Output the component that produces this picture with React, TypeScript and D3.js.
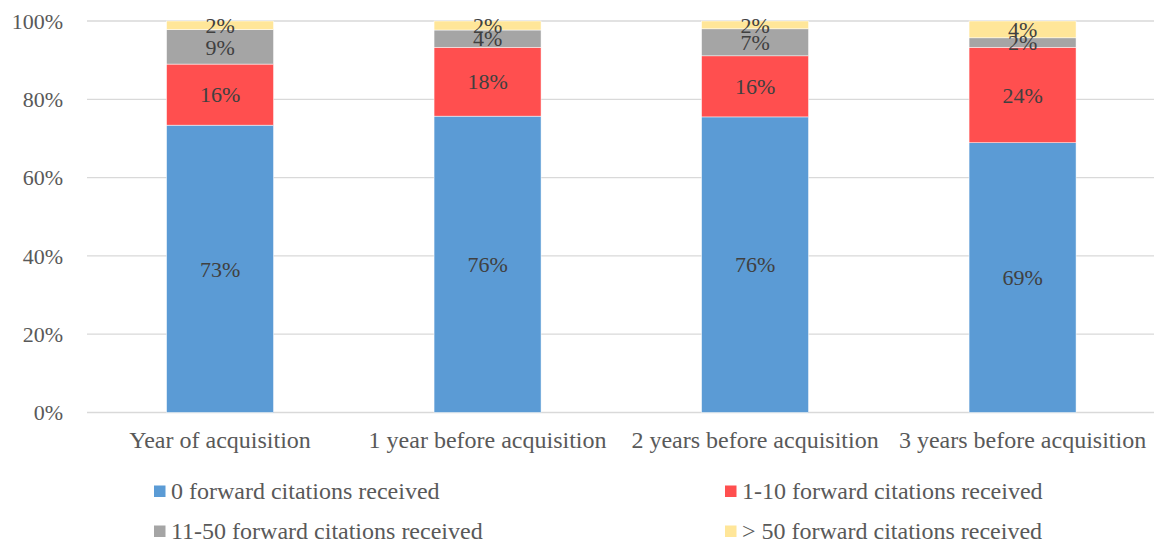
import React from "react";
import * as d3 from "d3";

const categories = [
  "Year of acquisition",
  "1 year before acquisition",
  "2 years before acquisition",
  "3 years before acquisition",
];
const seriesNames = [
  "0 forward citations received",
  "1-10 forward citations received",
  "11-50 forward citations received",
  "> 50 forward citations received",
];
const zeroCit = [73.4, 75.7, 75.5, 68.9];
const oneToTen = [15.6, 17.6, 15.6, 24.4];
const elevenToFifty = [8.8, 4.4, 6.9, 2.4];
const overFifty = [2.2, 2.3, 2.0, 4.3];
const yTicks = [0, 20, 40, 60, 80, 100];
const colors = ["#5B9BD5", "#FF4F4F", "#A5A5A5", "#FFE699"];

const W = 1154;
const H = 542;

export default function App() {
  const series = [zeroCit, oneToTen, elevenToFifty, overFifty];
  const rows = categories.map((c, i) => {
    const r: any = { cat: c };
    seriesNames.forEach((s, j) => (r[s] = series[j][i]));
    return r;
  });
  const stacked = d3.stack<any>().keys(seriesNames)(rows);

  const x = d3
    .scaleBand()
    .domain(categories)
    .range([86.3, 1156.3])
    .paddingInner(0.6)
    .paddingOuter(0.3);
  const y = d3.scaleLinear().domain([0, 100]).range([412.5, 21]);

  const font = "'Liberation Serif', 'Times New Roman', serif";

  return (
    <svg
      width={W}
      height={H}
      style={{ position: "absolute", left: 0, top: 0, background: "#fff" }}
      fontFamily={font}
    >
      {yTicks.map((t) => (
        <g key={t}>
          <line
            x1={87}
            x2={W}
            y1={y(t)}
            y2={y(t)}
            stroke="#d9d9d9"
            strokeWidth={1.3}
          />
          <text
            x={63}
            y={y(t)}
            dy="0.35em"
            textAnchor="end"
            fontSize={22}
            fill="#595959"
          >
            {t}%
          </text>
        </g>
      ))}
      {stacked.map((layer, j) => (
        <g key={layer.key}>
          {layer.map((d, i) => (
            <rect
              key={i}
              x={x(categories[i])}
              width={x.bandwidth()}
              y={y(d[1])}
              height={y(d[0]) - y(d[1])}
              fill={colors[j]}
              stroke="#ffffff"
              strokeWidth={0.5}
            />
          ))}
        </g>
      ))}
      {stacked.map((layer, j) => (
        <g key={"l" + layer.key}>
          {layer.map((d, i) => (
            <text
              key={i}
              x={(x(categories[i]) as number) + x.bandwidth() / 2}
              y={(y(d[0]) + y(d[1])) / 2}
              dy="0.35em"
              textAnchor="middle"
              fontSize={22}
              fill="#404040"
            >
              {Math.round(series[j][i])}%
            </text>
          ))}
        </g>
      ))}
      {categories.map((c) => (
        <text
          key={c}
          x={(x(c) as number) + x.bandwidth() / 2}
          y={448}
          textAnchor="middle"
          fontSize={24}
          fill="#595959"
        >
          {c}
        </text>
      ))}
      {seriesNames.map((s, j) => {
        const col = j % 2;
        const row = Math.floor(j / 2);
        const lx = col === 0 ? 154 : 725;
        const ly = row === 0 ? 485.5 : 525.5;
        return (
          <g key={s}>
            <rect x={lx} y={ly} width={11.5} height={11.5} fill={colors[j]} />
            <text x={lx + 17} y={ly + 13} fontSize={24} fill="#595959">
              {s}
            </text>
          </g>
        );
      })}
    </svg>
  );
}
